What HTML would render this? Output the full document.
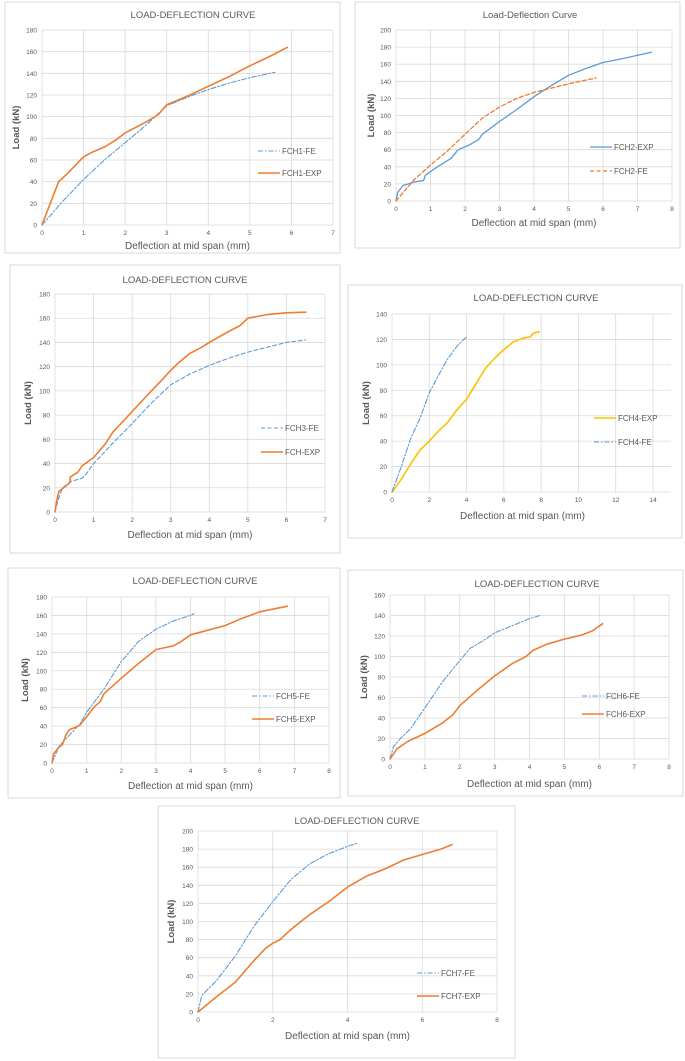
<!DOCTYPE html>
<html><head><meta charset="utf-8">
<style>
body{margin:0;background:#fff;width:685px;height:1061px;overflow:hidden;font-family:"Liberation Sans",sans-serif}
svg{position:absolute;left:0;top:0}
</style></head>
<body>
<svg id="root" width="685" height="1061"></svg>
<script>
const fch1FeX=[0,0.5,1,1.5,2,2.5,3,3.5,4,4.5,5,5.6];
const fch1FeY=[0,22,42,60,76,92,110,118,125,131,136,141];
const fch1ExpX=[0,0.2,0.4,0.6,0.8,1,1.2,1.5,1.8,2,2.5,2.8,3,3.5,4,4.5,5,5.5,5.9];
const fch1ExpY=[0,20,40,47,55,63,67,72,79,85,95,102,111,119,128,137,147,156,164];
const fch2ExpX=[0,0.05,0.2,0.5,0.8,0.85,1.2,1.6,1.8,2.1,2.4,2.5,3,3.5,4,4.5,5,5.5,6,6.5,7.4];
const fch2ExpY=[0,10,18,22,24,30,40,50,60,65,72,78,93,107,122,135,147,155,162,166,174];
const fch2FeX=[0,0.5,1,1.5,2,2.5,3,3.5,4,4.5,5,5.8];
const fch2FeY=[0,24,42,59,78,97,110,120,127,132,137,144];
const fch3FeX=[0,0.1,0.2,0.4,0.7,0.8,1,1.5,2,2.5,3,3.5,4,4.5,5,5.5,6,6.5];
const fch3FeY=[0,12,20,25,28,31,40,57,73,90,105,114,121,127,132,136,140,142];
const fch3ExpX=[0,0.05,0.1,0.3,0.38,0.4,0.6,0.7,1,1.3,1.5,1.8,2,2.5,2.8,3,3.2,3.5,3.8,4,4.5,4.8,5,5.5,6,6.5];
const fch3ExpY=[0,10,17,22,24,29,33,38,45,56,66,76,83,100,110,117,123,131,136,140,149,154,160,163,164.5,165];
const fch4FeX=[0,0.5,1,1.5,2,2.5,3,3.5,4];
const fch4FeY=[0,20,42,58,78,92,105,115,122];
const fch4ExpX=[0,0.5,1,1.5,2,2.5,3,3.5,4,4.5,5,5.5,6,6.5,7,7.4,7.6,7.9];
const fch4ExpY=[0,10,22,33,40,48,55,65,73,85,97,105,112,118,121,122,125,126];
const fch5FeX=[0,0.2,0.5,0.8,1,1.5,2,2.5,3,3.5,4,4.1];
const fch5FeY=[0,18,30,42,55,80,110,132,145,154,160,162];
const fch5ExpX=[0,0.05,0.2,0.3,0.4,0.5,0.7,0.8,1,1.2,1.4,1.5,2,2.5,3,3.5,3.7,4,4.5,5,5.5,6,6.8];
const fch5ExpY=[0,10,17,20,30,36,39,41,50,60,67,75,92,108,123,127,131,139,144,149,157,164,170];
const fch6FeX=[0,0.1,0.3,0.6,1,1.5,2,2.3,2.7,3,3.5,4,4.3];
const fch6FeY=[0,12,20,30,50,75,96,108,116,123,130,137,140];
const fch6ExpX=[0,0.2,0.5,1,1.5,1.8,2,2.5,3,3.5,3.9,4.1,4.5,5,5.5,5.8,6.1];
const fch6ExpY=[0,10,17,25,35,43,52,67,81,93,100,106,112,117,121,125,132];
const fch7FeX=[0,0.1,0.5,1,1.5,2,2.5,3,3.5,4,4.3];
const fch7FeY=[0,18,35,62,95,122,147,164,175,183,187];
const fch7ExpX=[0,0.5,1,1.5,1.8,2,2.2,2.4,2.6,3,3.5,4,4.5,5,5.5,6,6.5,6.8];
const fch7ExpY=[0,17,33,57,70,76,80,88,95,108,122,138,150,158,168,174,180,185];

const BLUE='#5b9bd5',ORANGE='#ed7d31',YEL='#ffc000';
const NS='http://www.w3.org/2000/svg';
const root=document.getElementById('root');
function mk(tag,attrs,parent){const e=document.createElementNS(NS,tag);for(const k in attrs)e.setAttribute(k,attrs[k]);(parent||root).appendChild(e);return e;}
function txt(s,x,y,size,parent,anchor,extra){const t=mk('text',Object.assign({x:x,y:y,'font-size':size,fill:'#595959','text-anchor':anchor||'middle','font-family':'Liberation Sans, sans-serif'},extra||{}),parent);t.textContent=s;return t;}

function chart(c){
  const g=mk('g',{});
  
  
  const pn=mk('rect',{x:c.panel[0],y:c.panel[1],width:c.panel[2]-c.panel[0],height:c.panel[3]-c.panel[1],fill:'#fff',stroke:'#d9d9d9','stroke-width':1},g);
  
  
  const [x0,x1,y0,y1]=c.plot;
  const xr=c.xright||x1;
  const sx=v=>x0+(x1-x0)*v/c.xmax, sy=v=>y0-(y0-y1)*v/c.ymax;
  for(let v=0;v<=c.xmax+1e-9;v+=c.xstep){
    const l=mk('line',{x1:sx(v),x2:sx(v),y1:y0,y2:y1,stroke:'#d9d9d9','stroke-width':0.8},g);
    
    
    const t=txt(String(v),sx(v),y0+10,6.5,g);
    
    
  }
  for(let v=0;v<=c.ymax+1e-9;v+=c.ystep){
    const l=mk('line',{x1:x0,x2:xr,y1:sy(v),y2:sy(v),stroke:'#d9d9d9','stroke-width':0.8},g);
    
    
    const t=txt(String(v),x0-5,sy(v)+2.5,6.5,g,'end');
    
    
  }
  const tt=txt(c.title,c.tx,c.ty,9.5,g);
  
  
  const xt=txt('Deflection at mid span (mm)',(x0+x1)/2,c.xty,10,g);
  
  
  const yc=(y0+y1)/2;
  const yt=txt('Load (kN)',c.ytx,yc,9.5,g,'middle',{transform:'rotate(-90 '+c.ytx+' '+yc+')','font-weight':'bold'});
  
  
  c.series.forEach((s,i)=>{
    const pts=s.x.map((v,k)=>sx(v).toFixed(1)+','+sy(s.y[k]).toFixed(1)).join(' ');
    const p=mk('polyline',{points:pts,fill:'none',stroke:s.color,'stroke-width':s.w||1.6,'stroke-dasharray':s.dash||'none','stroke-linejoin':'round','stroke-linecap':'round'},g);
    
    
    const [lx,ly]=s.leg;
    const ll=mk('line',{x1:lx,x2:lx+22,y1:ly,y2:ly,stroke:s.color,'stroke-width':s.w||1.6,'stroke-dasharray':s.dash||'none'},g);
    
    
    const lt=txt(s.name,lx+24,ly+3,8,g,'start');
    
    
  });
}
const DD='5 2 1.5 2', DS='4 2.5';
chart({id:'chart-fch1',panel:[5,2,340,253],plot:[42,333,225,30],xmax:7,xstep:1,ymax:180,ystep:20,title:'LOAD-DEFLECTION CURVE',tx:193,ty:18,xty:249,ytx:19,
 series:[{name:'FCH1-FE',x:fch1FeX,y:fch1FeY,color:BLUE,dash:DD,w:1.1,leg:[258,151]},{name:'FCH1-EXP',x:fch1ExpX,y:fch1ExpY,color:ORANGE,leg:[258,173]}]});
chart({id:'chart-fch2',panel:[355,2,680,248],plot:[396,672,201,30],xmax:8,xstep:1,ymax:200,ystep:20,title:'Load-Deflection Curve',tx:530,ty:18,xty:226,ytx:374,
 series:[{name:'FCH2-EXP',x:fch2ExpX,y:fch2ExpY,color:BLUE,w:1.3,leg:[590,147]},{name:'FCH2-FE',x:fch2FeX,y:fch2FeY,color:ORANGE,dash:DS,w:1.3,leg:[590,171]}]});
chart({id:'chart-fch3',panel:[10,265,340,553],plot:[55,325,512,294],xmax:7,xstep:1,ymax:180,ystep:20,title:'LOAD-DEFLECTION CURVE',tx:185,ty:283,xty:538,ytx:31,
 series:[{name:'FCH3-FE',x:fch3FeX,y:fch3FeY,color:BLUE,dash:DS,w:1.1,leg:[261,428]},{name:'FCH-EXP',x:fch3ExpX,y:fch3ExpY,color:ORANGE,leg:[261,452]}]});
chart({id:'chart-fch4',panel:[348,285,682,538],plot:[392,653,492,314],xright:671,xmax:14,xstep:2,ymax:140,ystep:20,title:'LOAD-DEFLECTION CURVE',tx:536,ty:301,xty:519,ytx:369,
 series:[{name:'FCH4-EXP',x:fch4ExpX,y:fch4ExpY,color:YEL,leg:[594,418]},{name:'FCH4-FE',x:fch4FeX,y:fch4FeY,color:BLUE,dash:DD,w:1.1,leg:[594,442]}]});
chart({id:'chart-fch5',panel:[8,568,340,798],plot:[52,329,763,597],xmax:8,xstep:1,ymax:180,ystep:20,title:'LOAD-DEFLECTION CURVE',tx:195,ty:584,xty:789,ytx:28,
 series:[{name:'FCH5-FE',x:fch5FeX,y:fch5FeY,color:BLUE,dash:DD,w:1.1,leg:[252,696]},{name:'FCH5-EXP',x:fch5ExpX,y:fch5ExpY,color:ORANGE,leg:[252,719]}]});
chart({id:'chart-fch6',panel:[348,570,683,796],plot:[390,669,759,595],xmax:8,xstep:1,ymax:160,ystep:20,title:'LOAD-DEFLECTION CURVE',tx:537,ty:587,xty:787,ytx:367,
 series:[{name:'FCH6-FE',x:fch6FeX,y:fch6FeY,color:BLUE,dash:DD,w:1.1,leg:[582,696]},{name:'FCH6-EXP',x:fch6ExpX,y:fch6ExpY,color:ORANGE,leg:[582,714]}]});
chart({id:'chart-fch7',panel:[158,806,515,1058],plot:[198,497,1012,831],xmax:8,xstep:2,ymax:200,ystep:20,title:'LOAD-DEFLECTION CURVE',tx:357,ty:824,xty:1039,ytx:174,
 series:[{name:'FCH7-FE',x:fch7FeX,y:fch7FeY,color:BLUE,dash:DD,w:1.1,leg:[417,973]},{name:'FCH7-EXP',x:fch7ExpX,y:fch7ExpY,color:ORANGE,leg:[417,996]}]});
</script>
</body></html>
